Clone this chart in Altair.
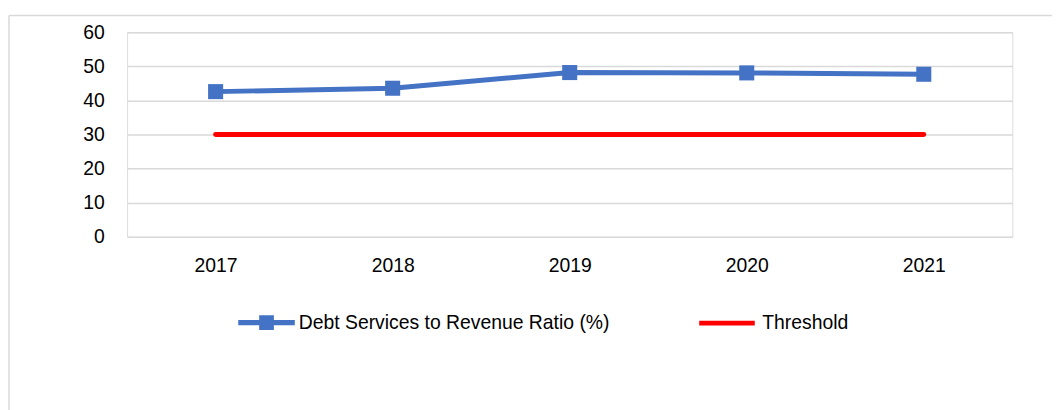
import altair as alt
import pandas as pd

years = ["2017", "2018", "2019", "2020", "2021"]
ratio = [42.6, 43.6, 48.2, 48.1, 47.7]
threshold = [30, 30, 30, 30, 30]
series_ratio = "Debt Services to Revenue Ratio (%)"
series_thr = "Threshold"
y_ticks = [0, 10, 20, 30, 40, 50, 60]
title_text = "Figure 11: Debt Service to Revenue Ratio"

df_ratio = pd.DataFrame({"year": years, "value": ratio, "series": series_ratio})
df_thr = pd.DataFrame({"year": years, "value": threshold, "series": series_thr})

FONT = "Liberation Sans, Arial, sans-serif"
FS = 19.5
BLUE = "#4472C4"
RED = "#FF0000"
GRID = "#d9d9d9"

x_enc = alt.X(
    "year:N", sort=years, scale=alt.Scale(padding=0.5),
    axis=alt.Axis(title=None, labelAngle=0, ticks=False, domain=False, grid=False,
                  labelFont=FONT, labelFontSize=FS, labelColor="#000000", labelPadding=20),
)
y_enc = alt.Y(
    "value:Q", scale=alt.Scale(domain=[0, 60], nice=False),
    axis=alt.Axis(title=None, values=y_ticks, ticks=False, domain=False, grid=True,
                  gridColor=GRID, gridWidth=1.5, labelFont=FONT, labelFontSize=FS,
                  labelColor="#000000", labelPadding=23),
)

thr_line = alt.Chart(df_thr).mark_line(strokeWidth=5, strokeCap="round").encode(
    x=x_enc, y=y_enc,
    stroke=alt.Stroke(
        "series:N", scale=alt.Scale(domain=[series_thr], range=[RED]),
        legend=alt.Legend(title=None, orient="none", legendX=574, legendY=262.5, padding=0,
                          symbolType="stroke", symbolSize=3136, symbolStrokeWidth=5,
                          labelFont=FONT, labelFontSize=FS, labelColor="#000000",
                          labelOffset=5, labelLimit=0),
    ),
)

ratio_line = alt.Chart(df_ratio).mark_line(strokeWidth=5, color=BLUE).encode(x=x_enc, y=y_enc)

legend_path = "M-1,-0.09H1V0.09H-1Z M-0.26,-0.26H0.26V0.26H-0.26Z"
ratio_pts = alt.Chart(df_ratio).mark_square(size=230, opacity=1, filled=True).encode(
    x=x_enc, y=y_enc,
    fill=alt.Fill(
        "series:N", scale=alt.Scale(domain=[series_ratio], range=[BLUE]),
        legend=alt.Legend(title=None, orient="none", legendX=112, legendY=264, padding=0,
                          symbolType=legend_path, symbolSize=3249, symbolStrokeWidth=0,
                          symbolOpacity=1, labelFont=FONT, labelFontSize=FS,
                          labelColor="#000000", labelOffset=4, labelLimit=0),
    ),
)

border_top = alt.Chart().mark_rule(color=GRID, strokeWidth=1.5).encode(
    x=alt.value(-119), x2=alt.value(940), y=alt.value(-17)
)
border_left = alt.Chart().mark_rule(color=GRID, strokeWidth=1.5).encode(
    x=alt.value(-119), y=alt.value(-17), y2=alt.value(390)
)

chart = alt.layer(border_top, border_left, thr_line, ratio_line, ratio_pts).resolve_scale(
    stroke="independent", fill="independent"
).properties(
    width=892, height=206, autosize="none",
    padding={"left": 120, "top": 23, "right": 40, "bottom": 173},
    title=alt.TitleParams(text=title_text, font="Lato", fontSize=19, fontWeight="bold",
                          color=BLUE, anchor="middle", dx=-40, offset=0, baseline="bottom"),
).configure_view(stroke=None).configure(background="white")

chart.save("out.html", embed_options={"renderer": "svg", "actions": False})
